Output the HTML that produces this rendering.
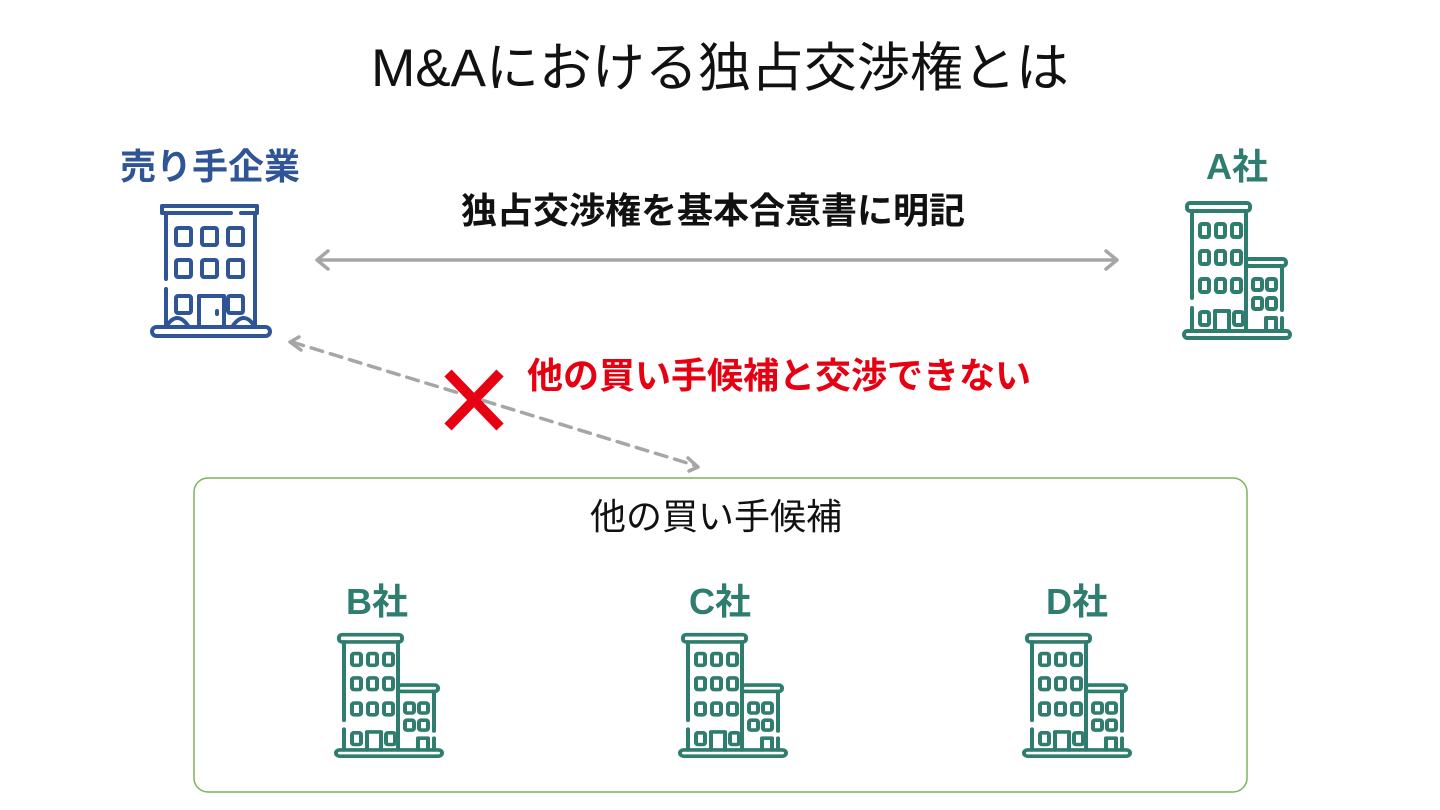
<!DOCTYPE html>
<html><head><meta charset="utf-8">
<style>
body{margin:0;width:1440px;height:810px;background:#fff;position:relative;overflow:hidden;font-family:"Liberation Sans","Noto Sans CJK JP",sans-serif;}
.t{position:absolute;white-space:nowrap;transform:translateX(-50%);line-height:1;}
svg.ic{position:absolute;}
</style></head><body>
<svg width="0" height="0" style="position:absolute">
<defs>
<g id="co" fill="none" stroke="#2e7d6f" stroke-width="4" stroke-linecap="round" stroke-linejoin="round">
<rect x="5" y="3" width="63" height="8" rx="3"/>
<path d="M10 11V98M10 108V131M64 11V131"/>
<rect x="18" y="24" width="9" height="13" rx="2"/><rect x="34" y="24" width="9" height="13" rx="2"/><rect x="50" y="24" width="9" height="13" rx="2"/>
<rect x="18" y="51" width="9" height="13" rx="2"/><rect x="34" y="51" width="9" height="13" rx="2"/><rect x="50" y="51" width="9" height="13" rx="2"/>
<rect x="18" y="79" width="9" height="13" rx="2"/><rect x="34" y="79" width="9" height="13" rx="2"/><rect x="50" y="79" width="9" height="13" rx="2"/>
<rect x="18" y="112" width="9" height="13" rx="2"/><path d="M33 131V111H47V131"/><rect x="52" y="112" width="9" height="13" rx="2"/>
<rect x="64" y="59" width="40" height="7" rx="3"/>
<path d="M100 66V110M100 118V131"/>
<rect x="71" y="79" width="9" height="11" rx="2"/><rect x="85" y="79" width="9" height="11" rx="2"/>
<rect x="71" y="98" width="9" height="11" rx="2"/><rect x="85" y="98" width="9" height="11" rx="2"/>
<path d="M84 131V118H94V131"/>
<rect x="2" y="131" width="106" height="7" rx="3.5"/>
</g>
</defs>
</svg>

<div class="t" style="left:720px;top:42px;font-size:53px;color:#111;">M&amp;Aにおける独占交渉権とは</div>

<div class="t" style="left:210px;top:149px;font-size:36px;font-weight:bold;color:#2f5597;">売り手企業</div>
<svg class="ic" style="left:149px;top:199px" width="124" height="140" viewBox="0 0 124 140">
<g fill="none" stroke="#2f5597" stroke-width="4" stroke-linecap="round" stroke-linejoin="round">
<path d="M17 14H82M92 14H108V7H13V14H17"/>
<path d="M17 14V80M17 90V128M106 14V128"/>
<rect x="27" y="29" width="15" height="17" rx="2"/><rect x="53" y="29" width="15" height="17" rx="2"/><rect x="79" y="29" width="15" height="17" rx="2"/>
<rect x="27" y="61" width="15" height="17" rx="2"/><rect x="53" y="61" width="15" height="17" rx="2"/><rect x="79" y="61" width="15" height="17" rx="2"/>
<rect x="27" y="97" width="15" height="17" rx="2"/><rect x="79" y="97" width="15" height="17" rx="2"/>
<path d="M50 128V97H75V128"/><path d="M68 112V115"/>
<path d="M17 128Q28 110 40 128M83 128Q95 110 106 128"/>
<rect x="3" y="128" width="118" height="9" rx="4.5"/>
</g></svg>

<div class="t" style="left:1237px;top:149px;font-size:36px;font-weight:bold;color:#2e7d6f;">A社</div>
<svg class="ic" style="left:1182px;top:200px" width="110" height="140" viewBox="0 0 110 140"><use href="#co"/></svg>

<div class="t" style="left:713px;top:193px;font-size:36px;font-weight:bold;color:#111;">独占交渉権を基本合意書に明記</div>

<svg class="ic" style="left:0;top:0" width="1440" height="810">
<g stroke="#a6a6a6" stroke-width="3.5" fill="none" stroke-linecap="round" stroke-linejoin="round">
<path d="M318 260H1116"/>
<path d="M328 251L317 260L328 269M1106 251L1117 260L1106 269"/>
<path d="M292 342L697 466" stroke-dasharray="12 8"/>
<path d="M299 337L290 342L301 350M689 471L698 467L688 458"/>
</g>
<g stroke="#e60012" stroke-width="10"><path d="M448 373L500 427M500 373L448 427"/></g>
<rect x="194" y="478" width="1053" height="314" rx="14" fill="none" stroke="#7cb35a" stroke-width="1.5"/>
</svg>

<div class="t" style="left:779px;top:358px;font-size:36px;font-weight:bold;color:#e60012;">他の買い手候補と交渉できない</div>

<div class="t" style="left:716px;top:499px;font-size:36px;color:#111;">他の買い手候補</div>

<div class="t" style="left:377px;top:584px;font-size:36px;font-weight:bold;color:#2e7d6f;">B社</div>
<div class="t" style="left:720px;top:584px;font-size:36px;font-weight:bold;color:#2e7d6f;">C社</div>
<div class="t" style="left:1077px;top:584px;font-size:36px;font-weight:bold;color:#2e7d6f;">D社</div>
<svg class="ic" style="left:334px;top:632px" width="110" height="126" viewBox="0 0 110 140" preserveAspectRatio="none"><use href="#co"/></svg>
<svg class="ic" style="left:678px;top:632px" width="110" height="126" viewBox="0 0 110 140" preserveAspectRatio="none"><use href="#co"/></svg>
<svg class="ic" style="left:1022px;top:632px" width="110" height="126" viewBox="0 0 110 140" preserveAspectRatio="none"><use href="#co"/></svg>
</body></html>
